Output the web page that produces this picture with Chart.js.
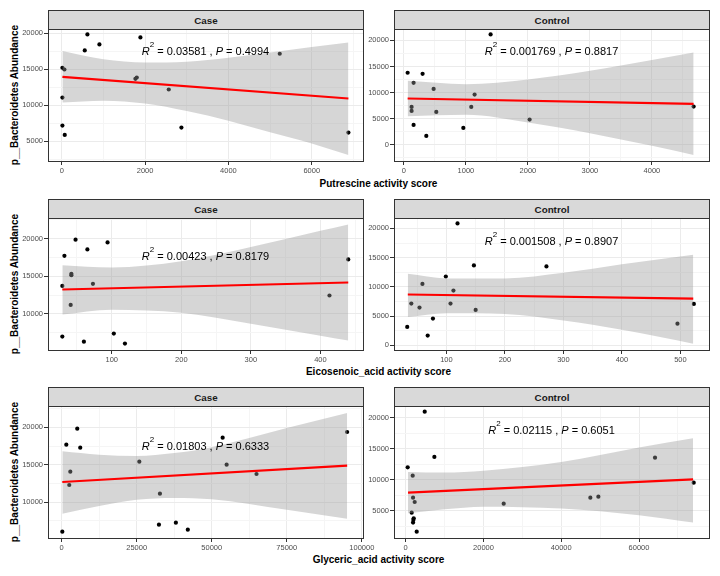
<!DOCTYPE html>
<html>
<head>
<meta charset="utf-8">
<script src="https://cdn.jsdelivr.net/npm/chart.js@4.4.1/dist/chart.umd.min.js"></script>
<style>
  body { margin: 0; background: #fff; font-family: "Liberation Sans", Arial, sans-serif; }
  #page { position: relative; width: 720px; height: 576px; overflow: hidden; background: #fff; }
  canvas { position: absolute; }
  .strip { position: absolute; height: 18px; width: 314px; background: #d9d9d9; border: 1px solid #333;
           font-weight: bold; font-size: 9.8px; color: #1a1a1a; text-align: center; line-height: 20px; }
  .xtitle { position: absolute; left: 48px; width: 661px; text-align: center; font-weight: bold;
            font-size: 10px; line-height: 14px; color: #000; }
  .ytitle { position: absolute; width: 200px; height: 12px; line-height: 12px; text-align: center;
            font-weight: bold; font-size: 10px; color: #000; transform: rotate(-90deg); white-space: nowrap; }
</style>
</head>
<body>
<div id="page">
  <div class="strip" style="left:48px;top:10px">Case</div>
  <div class="strip" style="left:394px;top:10px">Control</div>
  <div class="strip" style="left:48px;top:199px">Case</div>
  <div class="strip" style="left:394px;top:199px">Control</div>
  <div class="strip" style="left:48px;top:387px">Case</div>
  <div class="strip" style="left:394px;top:387px">Control</div>

  <div class="ytitle" style="left:-85px;top:89px">p__Bacteroidetes Abundance</div>
  <div class="ytitle" style="left:-85px;top:278px">p__Bacteroidetes Abundance</div>
  <div class="ytitle" style="left:-85px;top:466px">p__Bacteroidetes Abundance</div>

  <div class="xtitle" style="top:177px">Putrescine activity score</div>
  <div class="xtitle" style="top:365px">Eicosenoic_acid activity score</div>
  <div class="xtitle" style="top:553px">Glyceric_acid activity score</div>
</div>
<script>
// ---- Putrescine, Case
const putCaseX = [16, 64, 16, 16, 72, 552, 616, 904, 1768, 1800, 1888, 2568, 2872, 5232, 6880];
const putCaseY = [15220, 14980, 11080, 7180, 5880, 17630, 19860, 18470, 13680, 13870, 19440, 12200, 6900, 17170, 6210];
const putCaseFitX = [16, 6880];
const putCaseFitY = [13960, 10950];
const putCaseBandX = [16, 1000, 2000, 3000, 4000, 5000, 6000, 6880];
const putCaseBandHi = [17550, 16400, 15950, 16050, 16600, 17350, 18100, 18750];
const putCaseBandLo = [10400, 10650, 10250, 9200, 7850, 6250, 4700, 3100];
const putCaseXTicks = [0, 2000, 4000, 6000];
const putCaseYTicks = [5000, 10000, 15000, 20000];

// ---- Putrescine, Control
const putCtrlX = [60, 156, 301, 124, 124, 156, 361, 479, 522, 958, 1086, 1140, 1398, 2027, 4672];
const putCtrlY = [13790, 11860, 13590, 7240, 6470, 3780, 1670, 10700, 6280, 3210, 7240, 9610, 21150, 4810, 7310];
const putCtrlFitX = [60, 4672];
const putCtrlFitY = [8850, 7820];
const putCtrlBandX = [60, 1000, 2000, 3000, 4000, 4672];
const putCtrlBandHi = [12240, 11600, 12500, 14170, 16250, 17690];
const putCtrlBandLo = [5450, 5720, 4250, 2200, -230, -1990];
const putCtrlXTicks = [0, 1000, 2000, 3000, 4000];
const putCtrlYTicks = [0, 5000, 10000, 15000, 20000];

// ---- Eicosenoic_acid, Case
const eicCaseX = [29, 32, 42, 42, 48, 41, 29, 60, 65, 73, 94, 103, 119, 413, 440];
const eicCaseY = [13730, 17730, 15330, 15160, 19870, 11200, 6980, 6310, 18580, 14000, 19510, 7380, 6050, 12450, 17250];
const eicCaseFitX = [29, 440];
const eicCaseFitY = [13250, 14180];
const eicCaseBandX = [29, 100, 200, 300, 400, 440];
const eicCaseBandHi = [16490, 16180, 17000, 18900, 21050, 21910];
const eicCaseBandLo = [9910, 10550, 10150, 8700, 7100, 6450];
const eicCaseXTicks = [100, 200, 300, 400];
const eicCaseYTicks = [10000, 15000, 20000];

// ---- Eicosenoic_acid, Control
const eicCtrlX = [33, 40, 54, 59, 68, 77, 99, 107, 112, 119, 147, 150, 271, 495, 523];
const eicCtrlY = [3140, 7140, 6460, 10510, 1660, 4570, 11770, 7140, 9370, 20860, 13660, 6060, 13490, 3710, 7090];
const eicCtrlFitX = [34, 522];
const eicCtrlFitY = [8690, 8000];
const eicCtrlBandX = [34, 100, 200, 300, 400, 522];
const eicCtrlBandHi = [12230, 11450, 11450, 12400, 13850, 15490];
const eicCtrlBandLo = [4860, 5500, 5350, 4250, 2650, 290];
const eicCtrlXTicks = [100, 200, 300, 400, 500];
const eicCtrlYTicks = [0, 5000, 10000, 15000, 20000];

// ---- Glyceric_acid, Case
const glyCaseX = [220, 1550, 2880, 2540, 5200, 6190, 25880, 32740, 32410, 38050, 42030, 53640, 54970, 64920, 95120];
const glyCaseY = [6030, 17680, 14060, 12280, 19820, 17280, 15400, 11120, 6970, 7230, 6300, 18620, 15000, 13750, 19380];
const glyCaseFitX = [220, 95120];
const glyCaseFitY = [12680, 14870];
const glyCaseBandX = [220, 12500, 25000, 37500, 50000, 75000, 95120];
const glyCaseBandHi = [16790, 16340, 16160, 16550, 17350, 19900, 21920];
const glyCaseBandLo = [8440, 9450, 10300, 10550, 10360, 8950, 7770];
const glyCaseXTicks = [0, 25000, 50000, 75000, 100000];
const glyCaseYTicks = [10000, 15000, 20000];

// ---- Glyceric_acid, Control
const glyCtrlX = [510, 1800, 4890, 7370, 1890, 2310, 1540, 2060, 1970, 1890, 2830, 25200, 47480, 49540, 64110, 74060];
const glyCtrlY = [11990, 10640, 20970, 13660, 7090, 6400, 4670, 3770, 3500, 3070, 1610, 6130, 7100, 7260, 13550, 9520];
const glyCtrlFitX = [600, 73900];
const glyCtrlFitY = [7900, 10050];
const glyCtrlBandX = [600, 10000, 20000, 40000, 60000, 73900];
const glyCtrlBandHi = [11250, 11150, 11450, 12850, 15200, 16670];
const glyCtrlBandLo = [4570, 5220, 5650, 5350, 4250, 3070];
const glyCtrlXTicks = [0, 20000, 40000, 60000];
const glyCtrlYTicks = [5000, 10000, 15000, 20000];

const FONT = '"Liberation Sans", Arial, sans-serif';
Chart.defaults.font.family = FONT;

function zip(xs, ys) {
    return xs.map((x, i) => ({x: x, y: ys[i]}));
}

// major ticks every step, light minor lines half way between
function gridValues(min, max, step) {
    const half = step / 2;
    const out = [];
    for (let v = Math.ceil(min / half) * half; v <= max; v += half) out.push(v);
    return out;
}

function isMajor(v, step) {
    return Math.abs(v / step - Math.round(v / step)) < 1e-6;
}

function axis(min, max, labels, isX) {
    const step = labels[1] - labels[0];
    return {
        type: 'linear',
        min: min,
        max: max,
        afterBuildTicks: s => { s.ticks = gridValues(min, max, step).map(v => ({value: v})); },
        afterFit: s => { if (isX) s.height = 20; else s.width = 48; },
        border: { display: false },
        grid: {
            lineWidth: 1,
            tickLength: 4,
            color: c => (c.tick && isMajor(c.tick.value, step)) ? '#ebebeb' : '#f5f5f5',
            tickColor: c => (c.tick && isMajor(c.tick.value, step)) ? '#333333' : 'rgba(0,0,0,0)'
        },
        ticks: {
            autoSkip: false,
            maxRotation: 0,
            padding: 1,
            color: '#4d4d4d',
            font: { size: 7.5 },
            callback: v => labels.some(t => Math.abs(t - v) < 1e-6) ? String(v) : ''
        }
    };
}

const panelBox = {
    id: 'panelBox',
    afterDraw(chart) {
        const a = chart.chartArea, ctx = chart.ctx;
        ctx.save();
        ctx.strokeStyle = '#333333';
        ctx.lineWidth = 1;
        ctx.strokeRect(a.left + 0.5, a.top + 0.5, a.right - a.left, a.bottom - a.top);
        ctx.restore();
    }
};

const statLabel = {
    id: 'statLabel',
    afterDatasetsDraw(chart, args, o) {
        const ctx = chart.ctx, a = chart.chartArea;
        const base = chart.scales.y.getPixelForValue(o.y) + 4.5;
        const parts = [
            ['R', 'italic 11px ' + FONT, 0],
            ['2', '8px ' + FONT, -8],
            [' = ' + o.r2 + ' , ', '11px ' + FONT, 0],
            ['P', 'italic 11px ' + FONT, 0],
            [' = ' + o.p, '11px ' + FONT, 0]
        ];
        ctx.save();
        ctx.fillStyle = '#000';
        ctx.textBaseline = 'alphabetic';
        let total = 0;
        parts.forEach(p => { ctx.font = p[1]; total += ctx.measureText(p[0]).width; });
        let x = (a.left + a.right) / 2 - total / 2;
        parts.forEach(p => {
            ctx.font = p[1];
            ctx.fillText(p[0], x, base + p[2]);
            x += ctx.measureText(p[0]).width;
        });
        ctx.restore();
    }
};

function makePanel(left, top, p) {
    const canvas = document.createElement('canvas');
    canvas.width = 383;
    canvas.height = 160;
    canvas.style.left = (left - 48) + 'px';
    canvas.style.top = (top - 8) + 'px';
    document.getElementById('page').appendChild(canvas);

    new Chart(canvas, {
        type: 'line',
        data: {
            datasets: [{
                data: zip(p.x, p.y),
                showLine: false,
                pointRadius: 2.1,
                pointBackgroundColor: '#000',
                pointBorderColor: '#000',
                pointBorderWidth: 0,
                order: 4
            }, {
                data: zip(p.bandX, p.hi),
                borderColor: 'rgba(0,0,0,0)',
                borderWidth: 0,
                pointRadius: 0,
                cubicInterpolationMode: 'monotone',
                fill: '+1',
                backgroundColor: 'rgba(153,153,153,0.4)',
                order: 3
            }, {
                data: zip(p.bandX, p.lo),
                borderColor: 'rgba(0,0,0,0)',
                borderWidth: 0,
                pointRadius: 0,
                cubicInterpolationMode: 'monotone',
                fill: false,
                order: 3
            }, {
                data: zip(p.fitX, p.fitY),
                borderColor: '#ff0000',
                borderWidth: 2.2,
                pointRadius: 0,
                fill: false,
                order: 1
            }]
        },
        options: {
            responsive: false,
            animation: false,
            devicePixelRatio: 1,
            events: [],
            layout: { padding: { left: 0, right: 20, top: 8, bottom: 0 } },
            scales: {
                x: axis(p.xMin, p.xMax, p.xTicks, true),
                y: axis(p.yMin, p.yMax, p.yTicks, false)
            },
            plugins: {
                legend: { display: false },
                tooltip: { enabled: false },
                statLabel: { r2: p.r2, p: p.pv, y: p.labY }
            }
        },
        plugins: [statLabel, panelBox]
    });
}

makePanel(48, 29, { x: putCaseX, y: putCaseY, fitX: putCaseFitX, fitY: putCaseFitY,
    bandX: putCaseBandX, hi: putCaseBandHi, lo: putCaseBandLo,
    xMin: -330, xMax: 7230, yMin: 2260, yMax: 20610, xTicks: putCaseXTicks, yTicks: putCaseYTicks,
    r2: '0.03581', pv: '0.4994', labY: 17630 });
makePanel(394, 29, { x: putCtrlX, y: putCtrlY, fitX: putCtrlFitX, fitY: putCtrlFitY,
    bandX: putCtrlBandX, hi: putCtrlBandHi, lo: putCtrlBandLo,
    xMin: -160, xMax: 4920, yMin: -3140, yMax: 22190, xTicks: putCtrlXTicks, yTicks: putCtrlYTicks,
    r2: '0.001769', pv: '0.8817', labY: 18080 });
makePanel(48, 218, { x: eicCaseX, y: eicCaseY, fitX: eicCaseFitX, fitY: eicCaseFitY,
    bandX: eicCaseBandX, hi: eicCaseBandHi, lo: eicCaseBandLo,
    xMin: 8.4, xMax: 461.2, yMin: 5200, yMax: 22760, xTicks: eicCaseXTicks, yTicks: eicCaseYTicks,
    r2: '0.00423', pv: '0.8179', labY: 17770 });
makePanel(394, 218, { x: eicCtrlX, y: eicCtrlY, fitX: eicCtrlFitX, fitY: eicCtrlFitY,
    bandX: eicCtrlBandX, hi: eicCtrlBandHi, lo: eicCtrlBandLo,
    xMin: 10.4, xMax: 548.9, yMin: -800, yMax: 21780, xTicks: eicCtrlXTicks, yTicks: eicCtrlYTicks,
    r2: '0.001508', pv: '0.8907', labY: 17970 });
makePanel(48, 406, { x: glyCaseX, y: glyCaseY, fitX: glyCaseFitX, fitY: glyCaseFitY,
    bandX: glyCaseBandX, hi: glyCaseBandHi, lo: glyCaseBandLo,
    xMin: -4550, xMax: 100400, yMin: 5180, yMax: 22860, xTicks: glyCaseXTicks, yTicks: glyCaseYTicks,
    r2: '0.01803', pv: '0.6333', labY: 17630 });
makePanel(394, 406, { x: glyCtrlX, y: glyCtrlY, fitX: glyCtrlFitX, fitY: glyCtrlFitY,
    bandX: glyCtrlBandX, hi: glyCtrlBandHi, lo: glyCtrlBandLo,
    xMin: -3010, xMax: 77990, yMin: 590, yMax: 21880, xTicks: glyCtrlXTicks, yTicks: glyCtrlYTicks,
    r2: '0.02115', pv: '0.6051', labY: 18020 });
</script>
</body>
</html>
